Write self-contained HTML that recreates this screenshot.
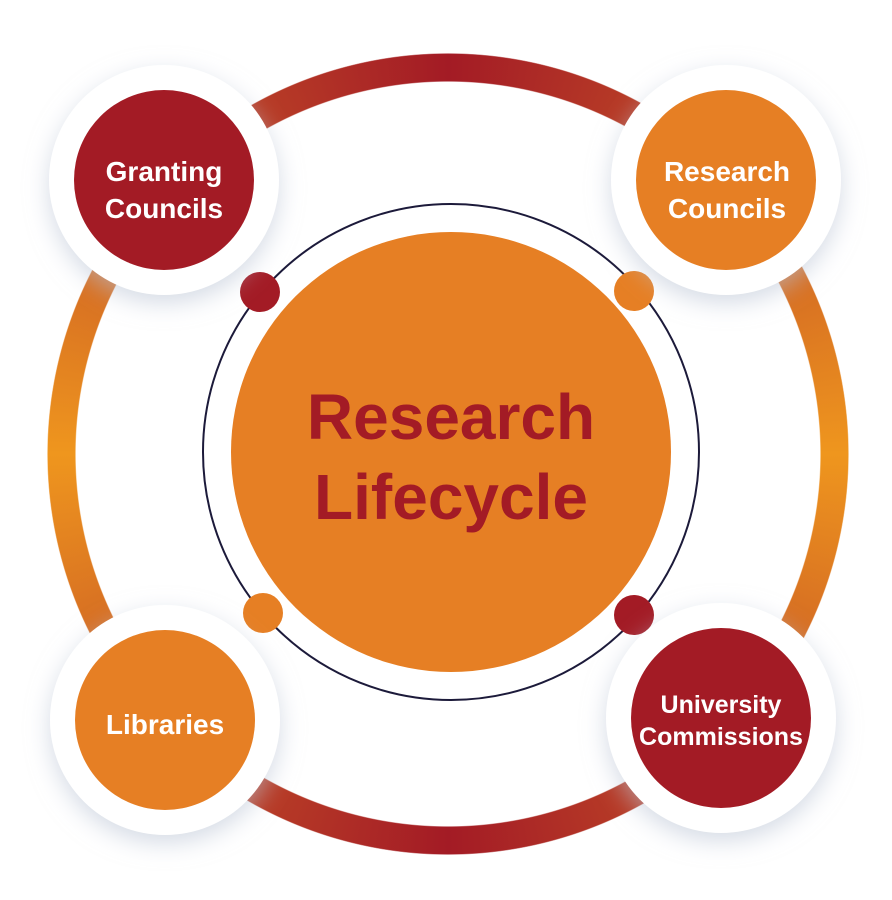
<!DOCTYPE html>
<html><head><meta charset="utf-8"><style>
html,body{margin:0;padding:0;background:#fff;}
#w{position:relative;width:892px;height:900px;overflow:hidden;}
#ring{position:absolute;left:47px;top:53px;width:802px;height:802px;border-radius:50%;
background:conic-gradient(#a31b25 0deg,#c04a27 40deg,#ef961e 90deg,#c04a27 140deg,#a31b25 180deg,#c04a27 220deg,#ef961e 270deg,#c04a27 320deg,#a31b25 360deg);
-webkit-mask:radial-gradient(circle,transparent 372px,#000 373px,#000 400px,transparent 401px);
mask:radial-gradient(circle,transparent 372px,#000 373px,#000 400px,transparent 401px);}
svg{position:absolute;left:0;top:0;}
</style></head><body><div id="w">
<div id="ring"></div>
<svg width="892" height="900" viewBox="0 0 892 900">
<defs><filter id="sh" x="-40%" y="-40%" width="180%" height="180%"><feDropShadow dx="0" dy="8" stdDeviation="12" flood-color="#b9c3d3" flood-opacity="0.6"/></filter></defs>
<circle cx="451" cy="452" r="248" fill="none" stroke="#1c1a3a" stroke-width="2"/>
<circle cx="451" cy="452" r="220" fill="#e67f24"/>
<g font-family="Liberation Sans, sans-serif" font-weight="bold" text-anchor="middle">
<text x="451" y="439" font-size="64" fill="#a31b25">Research</text>
<text x="451" y="519" font-size="64" fill="#a31b25">Lifecycle</text>
</g>
<circle cx="260" cy="292" r="20" fill="#a31b25"/>
<circle cx="634" cy="291" r="20" fill="#e67f24"/>
<circle cx="263" cy="613" r="20" fill="#e67f24"/>
<circle cx="634" cy="615" r="20" fill="#a31b25"/>
<g filter="url(#sh)" fill="#fff">
<circle cx="164" cy="180" r="115"/><circle cx="726" cy="180" r="115"/>
<circle cx="165" cy="720" r="115"/><circle cx="721" cy="718" r="115"/>
</g>
<circle cx="164" cy="180" r="90" fill="#a31b25"/>
<circle cx="726" cy="180" r="90" fill="#e67f24"/>
<circle cx="165" cy="720" r="90" fill="#e67f24"/>
<circle cx="721" cy="718" r="90" fill="#a31b25"/>
<g font-family="Liberation Sans, sans-serif" font-weight="bold" text-anchor="middle" fill="#fff">
<text x="164" y="181" font-size="28">Granting</text>
<text x="164" y="218" font-size="28">Councils</text>
<text x="727" y="181" font-size="28">Research</text>
<text x="727" y="218" font-size="28">Councils</text>
<text x="165" y="734" font-size="28">Libraries</text>
<text x="721" y="713" font-size="25">University</text>
<text x="721" y="745" font-size="25">Commissions</text>
</g>
</svg>
</div></body></html>
